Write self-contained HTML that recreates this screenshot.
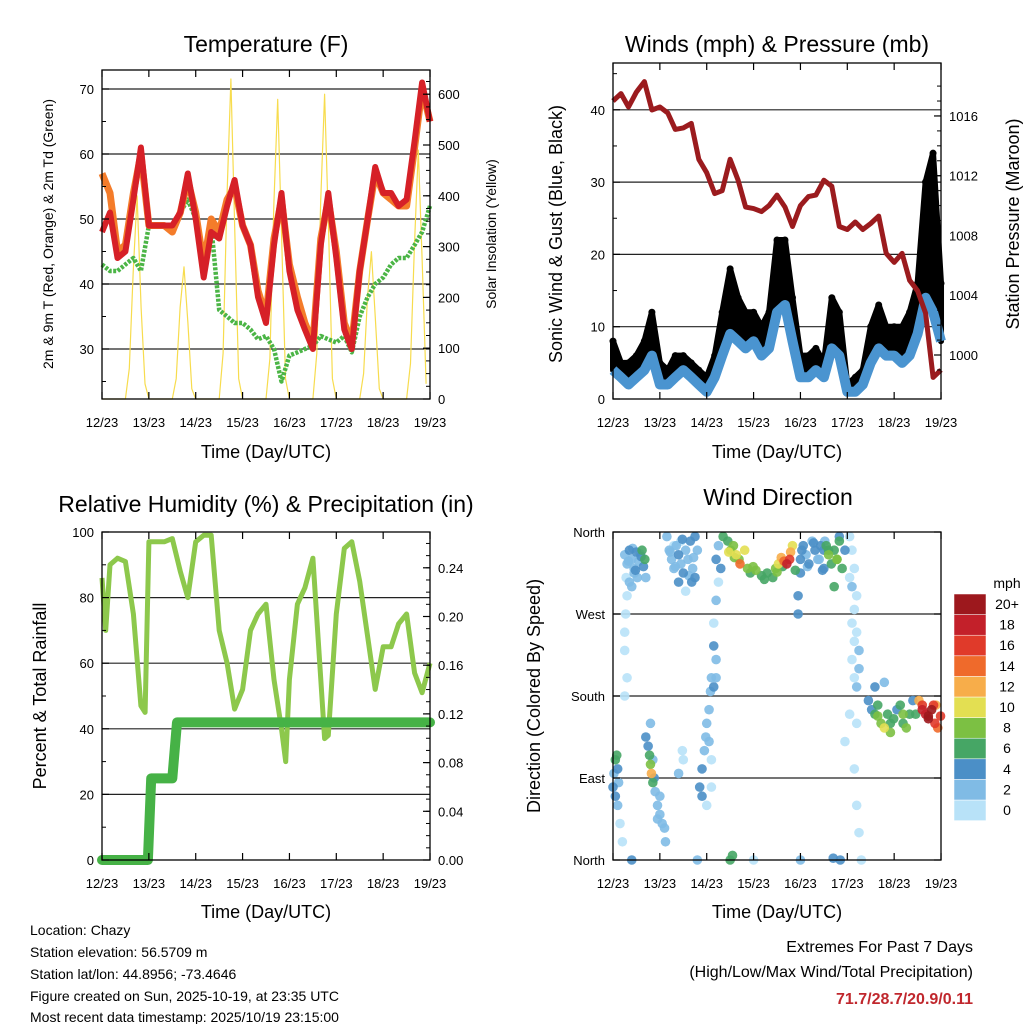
<!DOCTYPE html>
<html><head><meta charset="utf-8"><style>
html,body{margin:0;padding:0;background:#fff;}
svg{display:block;font-family:"Liberation Sans",sans-serif;}
</style></head><body>
<svg id="chart" width="1024" height="1024" viewBox="0 0 1024 1024" xmlns="http://www.w3.org/2000/svg">
<rect width="1024" height="1024" fill="#fff"/>
<g id="txt" font-family="Liberation Sans, sans-serif" fill="#000">
<text x="266" y="52" font-size="23" text-anchor="middle">Temperature (F)</text>
<text x="777" y="52" font-size="23" text-anchor="middle">Winds (mph) &amp; Pressure (mb)</text>
<text x="266" y="512" font-size="23" text-anchor="middle">Relative Humidity (%) &amp; Precipitation (in)</text>
<text x="778" y="505" font-size="23" text-anchor="middle">Wind Direction</text>
<text x="266" y="458" font-size="18" text-anchor="middle">Time (Day/UTC)</text>
<text x="777" y="458" font-size="18" text-anchor="middle">Time (Day/UTC)</text>
<text x="266" y="918" font-size="18" text-anchor="middle">Time (Day/UTC)</text>
<text x="777" y="918" font-size="18" text-anchor="middle">Time (Day/UTC)</text>
<text transform="translate(53,234) rotate(-90)" font-size="14" text-anchor="middle">2m &amp; 9m T (Red, Orange) &amp; 2m Td (Green)</text>
<text transform="translate(496,234) rotate(-90)" font-size="14" text-anchor="middle">Solar Insolation (Yellow)</text>
<text transform="translate(562,234) rotate(-90)" font-size="18" text-anchor="middle">Sonic Wind &amp; Gust (Blue, Black)</text>
<text transform="translate(1019,224) rotate(-90)" font-size="18" text-anchor="middle">Station Pressure (Maroon)</text>
<text transform="translate(46,696) rotate(-90)" font-size="18" text-anchor="middle">Percent &amp; Total Rainfall</text>
<text transform="translate(540,696) rotate(-90)" font-size="18" text-anchor="middle">Direction (Colored By Speed)</text>
<g font-size="14">
<text x="30" y="935">Location: Chazy</text>
<text x="30" y="957">Station elevation: 56.5709 m</text>
<text x="30" y="979">Station lat/lon: 44.8956; -73.4646</text>
<text x="30" y="1001">Figure created on Sun, 2025-10-19, at 23:35 UTC</text>
<text x="30" y="1022">Most recent data timestamp: 2025/10/19 23:15:00</text>
</g>
<text x="973" y="952" font-size="16" text-anchor="end">Extremes For Past 7 Days</text>
<text x="973" y="977" font-size="16" text-anchor="end">(High/Low/Max Wind/Total Precipitation)</text>
<text x="973" y="1004" font-size="16" font-weight="bold" fill="#c0272d" text-anchor="end">71.7/28.7/20.9/0.11</text>
<text x="1007" y="588" font-size="14" text-anchor="middle">mph</text>
</g>
</svg>
<script>
// ---- data ----
const dayLabels = ["12/23","13/23","14/23","15/23","16/23","17/23","18/23","19/23"];
const tStep = [0,0.17,0.33,0.5,0.67,0.83,1.0,1.17,1.33,1.5,1.67,1.83,2.0,2.17,2.33,2.5,2.67,2.83,3.0,3.17,3.33,3.5,3.67,3.83,4.0,4.17,4.33,4.5,4.67,4.83,5.0,5.17,5.33,5.5,5.67,5.83,6.0,6.17,6.33,6.5,6.67,6.83,7.0];
const temp2m = [48,51,44,45,53,61,49,49,49,49,51,57,50,41,48,47,52,56,49,46,38,34,46,54,42,36,33,30,46,54,44,33,30,42,50,58,54,54,52,53,62,71,65];
const temp9m = [57,54,45,46,54,60,49,49,49,48,51,56,51,43,50,48,53,55,49,46,39,35,47,53,43,38,34,31,47,53,45,34,31,42,50,57,54,53,52,52,61,70,65];
const dewpt = [43,42,42,43,44,42,49,49,49,49,51,53,50,42,49,36,35,34,34,33,31.5,32,30,25,29,29.5,30,30.5,32,31.5,31,32,29.5,35,38,40,41,43,44,44,46,48,52];
const solar = [0,0,0,0,0,0,0,60,250,400,180,30, 0,0,0,0,0,0,0,40,180,260,150,20, 0,0,0,0,0,0,0,90,400,630,330,40, 0,0,0,0,0,0,0,80,380,590,320,40, 0,0,0,0,0,0,0,90,390,600,340,40, 0,0,0,0,0,0,0,50,200,290,160,20, 0,0,0,0,0,0,0,70,300,490,270,30];
const pressure = [1017.0,1017.5,1016.6,1017.6,1018.3,1016.4,1016.6,1016.2,1015.1,1015.2,1015.5,1013.1,1012.2,1010.8,1011.0,1013.1,1011.7,1009.9,1009.8,1009.6,1010.0,1010.7,1009.9,1008.6,1010.0,1010.6,1010.7,1011.7,1011.3,1008.6,1008.4,1008.9,1008.4,1008.8,1009.3,1006.8,1006.2,1006.8,1005.0,1004.3,1002.8,998.5,999.0];
const windSpd = [4,3,2,3,4,6,2,2,3,4,3,2,1,3,6,9,8,7,8,6,7,12,13,8,3,3,4,3,7,6,1,1,2,5,7,6,6,5,6,9,14,12,8];
const windGust = [8,5,5,6,8,12,5,4,6,6,5,4,3,6,12,18,14,12,12,10,12,22,22,14,6,6,7,5,14,12,2,3,4,10,13,10,10,10,12,16,30,34,16];
const rhTime = [0,0.08,0.17,0.33,0.5,0.67,0.83,0.92,1.0,1.17,1.33,1.5,1.67,1.83,2.0,2.17,2.33,2.5,2.67,2.83,3.0,3.17,3.33,3.5,3.67,3.83,3.92,4.0,4.17,4.33,4.5,4.67,4.75,4.83,5.0,5.17,5.33,5.5,5.67,5.83,6.0,6.17,6.33,6.5,6.67,6.83,7.0];
const rhVal = [86,70,90,92,91,75,47,45,97,97,97,98,88,80,97,99,99,70,60,46,52,70,75,78,55,40,30,55,78,83,92,55,37,38,75,95,97,85,68,52,65,65,72,75,57,51,60];
const rainTime = [0,0.98,1.05,1.5,1.6,7.0];
const rainVal = [0,0,0.067,0.067,0.113,0.113];
const dirTime = [0.25,0.3,0.35,0.4,0.45,0.5,0.55,0.6,0.65,0.62,0.68,0.28,0.35,0.4,0.45,0.52,0.7,0.3,0.27,0.25,0.25,0.3,0.25,
1.15,1.2,1.25,1.3,1.35,1.4,1.45,1.5,1.55,1.6,1.65,1.7,1.75,1.8,1.75,1.4,1.55,1.68,1.3,1.45,
2.2,2.25,2.3,2.35,2.45,2.51,2.57,2.63,2.69,2.71,2.81,2.87,2.93,2.99,3.05,3.17,3.23,3.29,3.41,3.47,3.53,3.59,3.65,3.71,3.77,3.79,3.83,3.89,2.25,2.2,2.15,2.15,2.2,2.2,2.15,
4.0,4.06,4.12,4.18,4.25,4.31,4.37,4.43,4.5,4.0,3.95,3.95,4.55,4.6,4.66,4.72,4.78,4.83,4.89,4.72,4.83,4.95,4.5,4.52,
5.05,5.1,5.15,5.05,5.1,5.2,5.15,5.1,5.2,5.15,5.25,5.1,5.25,5.15,5.2,5.05,5.2,4.95,5.15,5.2,5.25,
5.45,5.52,5.59,5.65,5.72,5.79,5.86,5.92,5.99,6.06,6.13,6.19,6.26,6.33,6.4,6.46,6.53,6.6,6.67,6.73,6.8,6.87,6.93,6.99,6.89,5.59,5.79,
0.0,0.02,0.05,0.08,0.1,0.12,0.05,0.1,0.15,0.2,
0.7,0.75,0.78,0.8,0.82,0.85,0.88,0.9,0.95,1.0,1.05,1.1,1.12,1.0,0.95,0.8,0.85,
1.85,1.9,1.95,1.98,2.0,2.05,2.08,2.1,2.05,2.1,2.1,2.0,1.9,1.4,1.5,1.48,
0.4,1.8,2.5,2.55,3.0,4.0,4.7,4.85,5.3,
0.33,0.42,0.48,0.58,1.22,1.33,1.48,1.62,1.72,4.03,4.15,4.28,4.4,4.47,2.47,2.59,3.5,3.62,4.6,4.78,6.6,6.73,6.84,5.65,5.92,6.19];
const dirDeg = [335,325,340,330,320,338,328,333,322,340,330,310,305,300,315,310,310,290,270,250,230,200,180,
355,340,330,320,345,335,325,315,340,330,350,320,310,340,355,305,295,305,345,350,
330,345,320,355,350,340,345,335,330,325,340,320,315,322,318,312,308,315,310,320,325,332,328,325,330,338,345,318,305,285,260,235,220,200,190,
330,345,335,325,350,340,330,345,320,315,290,270,345,335,325,340,330,350,320,300,355,340,340,350,
355,340,320,310,300,290,275,260,250,240,230,220,210,200,190,160,150,130,100,60,30,
175,165,160,170,150,145,160,140,155,165,170,150,145,160,175,160,175,170,160,155,165,150,145,158,170,190,195,
80,95,110,115,100,85,70,60,40,20,
135,125,115,105,95,85,90,75,60,50,40,35,20,70,45,150,110,
80,100,120,135,150,165,185,200,130,110,80,60,70,95,110,120,
0,0,0,5,0,0,2,0,0,
328,342,318,336,338,322,352,312,332,340,322,348,330,318,338,332,316,322,340,330,165,158,170,158,150,160];
const dirSpd = [3,3,4,2,3,4,2,4,4,6,6,1,2,3,3,2,3,1,0,0,1,0,0,
2,2,3,2,2,4,3,4,2,3,4,2,4,3,4,4,1,4,1,1,
4,3,4,6,6,8,9,10,8,14,10,8,6,9,8,6,7,6,6,8,10,12,15,18,17,13,10,7,1,2,1,4,2,3,4,
4,4,3,4,3,4,2,4,4,4,4,4,6,8,7,6,8,6,6,6,4,4,4,2,
0,1,0,1,2,0,0,0,1,0,2,0,2,1,3,0,0,0,0,0,0,
4,4,6,6,8,10,6,8,6,4,6,6,8,6,4,6,12,16,18,20,20,16,14,16,12,4,2,
4,3,6,6,4,3,4,2,1,1,
4,4,6,8,12,6,4,2,2,2,2,2,2,2,2,2,2,
4,4,3,3,2,2,2,2,2,1,1,1,4,2,1,1,
4,2,6,6,1,2,4,4,0,
2,3,4,2,2,3,4,2,3,4,3,4,2,4,10,9,8,7,6,8,18,20,17,8,6,8];
const cbLabels = ["0","2","4","6","8","10","12","14","16","18","20+"];
const cbColors = ["#b8e2f8","#80bbe5","#4b8fc7","#46a665","#7cc043","#e3df52","#f7ad4a","#ef6a2b","#e03a2a","#c3202a","#9d181d"];

// ---- helpers ----
const NS="http://www.w3.org/2000/svg";
const svg=document.getElementById('chart');
function mk(tag,parent,attrs){const e=document.createElementNS(NS,tag);for(const k in attrs)e.setAttribute(k,attrs[k]);parent.appendChild(e);return e;}
const xL=t=>102+t*46.86, xR=t=>613+t*46.86;
const yTemp=v=>349-(v-30)*6.5, ySolar=v=>399-v*0.508;
const yWind=v=>399-v*7.23, yPres=v=>355-(v-1000)*14.94;
const yRH=v=>860-v*3.28, yRain=v=>860-v*1217.5;
const yDir=v=>860-v*0.9111;
function pathD(ts,vs,fx,fy){return ts.map((t,i)=>(i?'L':'M')+fx(t).toFixed(1)+','+fy(vs[i]).toFixed(1)).join('');}
const P=[{x0:102,x1:430,y0:70,y1:399,fx:xL},{x0:613,x1:941,y0:63,y1:399,fx:xR},{x0:102,x1:430,y0:532,y1:860,fx:xL},{x0:613,x1:941,y0:532,y1:860,fx:xR}];
const bg=mk('g',svg,{});


const fg=mk('g',svg,{});


const ax=mk('g',svg,{});



function gridY(p,vals,fy){vals.forEach(v=>{const g=mk('line',bg,{x1:p.x0,x2:p.x1,y1:fy(v),y2:fy(v),stroke:'#222','stroke-width':1.2});

});}
function leftTicks(p,vals,labels,fy,minor){
 vals.forEach((v,i)=>{mk('line',ax,{x1:p.x0,x2:p.x0+7,y1:fy(v),y2:fy(v),stroke:'#000','stroke-width':1.2});
 const t=mk('text',ax,{x:p.x0-8,y:fy(v)+5,'font-size':13,'text-anchor':'end'});t.textContent=labels[i];
 
 });
 (minor||[]).forEach(v=>mk('line',ax,{x1:p.x0,x2:p.x0+4,y1:fy(v),y2:fy(v),stroke:'#000'}));}
function rightTicks(p,vals,labels,fy,minor){
 vals.forEach((v,i)=>{mk('line',ax,{x1:p.x1-7,x2:p.x1,y1:fy(v),y2:fy(v),stroke:'#000','stroke-width':1.2});
 const t=mk('text',ax,{x:p.x1+8,y:fy(v)+5,'font-size':13});t.textContent=labels[i];
 
 });
 (minor||[]).forEach(v=>mk('line',ax,{x1:p.x1-4,x2:p.x1,y1:fy(v),y2:fy(v),stroke:'#000'}));}
function frame(p,name){
 const r=mk('rect',ax,{x:p.x0,y:p.y0,width:p.x1-p.x0,height:p.y1-p.y0,fill:'none',stroke:'#000','stroke-width':1.3});
 
 
 dayLabels.forEach((d,i)=>{const x=p.fx(i);
  mk('line',ax,{x1:x,x2:x,y1:p.y1,y2:p.y1-7,stroke:'#000','stroke-width':1.2});
  mk('line',ax,{x1:x,x2:x,y1:p.y0,y2:p.y0+7,stroke:'#000','stroke-width':1.2});
  const t=mk('text',ax,{x:x,y:p.y1+28,'font-size':13,'text-anchor':'middle'});t.textContent=d;
  
  });}
const range=(a,b,s)=>{const r=[];for(let v=a;v<=b+1e-9;v+=s)r.push(+v.toFixed(3));return r;};

// ---- Panel 1: temperature ----
const p1=P[0];
gridY(p1,[30,40,50,60,70],yTemp);
const sT=dayLabels.flatMap((d,k)=>k<7?range(0,22,2).map(h=>k+h/24):[]);
let e=mk('path',fg,{d:pathD(sT,solar,xL,ySolar),fill:'none',stroke:'#f7dc4e','stroke-width':1.2,'stroke-linejoin':'round'});


e=mk('path',fg,{d:pathD(tStep,dewpt,xL,yTemp),fill:'none',stroke:'#4bb546','stroke-width':4.5,'stroke-dasharray':'3 1.5','stroke-linejoin':'round'});


e=mk('path',fg,{d:pathD(tStep,temp9m,xL,yTemp),fill:'none',stroke:'#f47c2a','stroke-width':7,'stroke-linejoin':'round'});


e=mk('path',fg,{d:pathD(tStep,temp2m,xL,yTemp),fill:'none',stroke:'#d62027','stroke-width':6,'stroke-linejoin':'round'});


frame(p1,'temperature-plot-frame');
leftTicks(p1,[30,40,50,60,70],["30","40","50","60","70"],yTemp,[25,35,45,55,65]);
rightTicks(p1,[0,100,200,300,400,500,600],["0","100","200","300","400","500","600"],ySolar,range(25,625,25));

// ---- Panel 2: winds ----
const p2=P[1];
gridY(p2,[10,20,30,40],yWind);
const gustPoly=tStep.map((t,i)=>xR(t)+','+yWind(windGust[i])).concat(tStep.slice().reverse().map((t,j)=>{const i=tStep.length-1-j;return xR(t)+','+yWind(windSpd[i]);})).join(' ');
e=mk('polygon',fg,{points:gustPoly,fill:'#000',stroke:'#000','stroke-width':6,'stroke-linejoin':'round'});


tStep.forEach((t,i)=>{const c=mk('circle',fg,{cx:xR(t),cy:yWind(windGust[i]),r:3.5,fill:'#000'});

});
e=mk('path',fg,{d:pathD(tStep,windSpd,xR,yWind),fill:'none',stroke:'#4a94d0','stroke-width':10,'stroke-linejoin':'round'});


e=mk('path',fg,{d:pathD(tStep,pressure,xR,yPres),fill:'none',stroke:'#9b1b1e','stroke-width':5,'stroke-linejoin':'round'});


frame(p2,'winds-plot-frame');
leftTicks(p2,[0,10,20,30,40],["0","10","20","30","40"],yWind,[5,15,25,35,45]);
rightTicks(p2,[1000,1004,1008,1012,1016],["1000","1004","1008","1012","1016"],yPres,range(999,1018,1));

// ---- Panel 3: humidity ----
const p3=P[2];
gridY(p3,[20,40,60,80],yRH);
e=mk('path',fg,{d:pathD(rhTime,rhVal,xL,yRH),fill:'none',stroke:'#8dc84c','stroke-width':5,'stroke-linejoin':'round'});


e=mk('path',fg,{d:pathD(rainTime,rainVal,xL,yRain),fill:'none',stroke:'#46b246','stroke-width':10,'stroke-linejoin':'round','stroke-linecap':'round'});


frame(p3,'humidity-plot-frame');
leftTicks(p3,[0,20,40,60,80,100],["0","20","40","60","80","100"],yRH,[10,30,50,70,90]);
rightTicks(p3,[0,0.04,0.08,0.12,0.16,0.20,0.24],["0.00","0.04","0.08","0.12","0.16","0.20","0.24"],yRain,range(0.01,0.26,0.01));

// ---- Panel 4: wind direction ----
const p4=P[3];
gridY(p4,[90,180,270],yDir);
const order=dirSpd.map((s,i)=>i).sort((a,b)=>dirSpd[a]-dirSpd[b]);
order.forEach(i=>{const b=Math.min(10,Math.floor(dirSpd[i]/2));
 const c=mk('circle',fg,{cx:xR(dirTime[i]),cy:yDir(dirDeg[i]),r:4.8,fill:cbColors[b],'fill-opacity':0.9});
 
 });
frame(p4,'direction-plot-frame');
leftTicks(p4,[0,90,180,270,360],["North","East","South","West","North"],yDir,[]);
rightTicks(p4,[0,90,180,270,360],["","","","",""],yDir,[]);
// colorbar
cbLabels.forEach((l,i)=>{const y=800-i*20.6;
 const r=mk('rect',ax,{x:954,y:y,width:32,height:20.6,fill:cbColors[i],stroke:'#fff','stroke-width':0.5});
 
 
 const t=mk('text',ax,{x:1007,y:y+15,'font-size':14,'text-anchor':'middle'});t.textContent=l;
 
 });
</script>
</body></html>
